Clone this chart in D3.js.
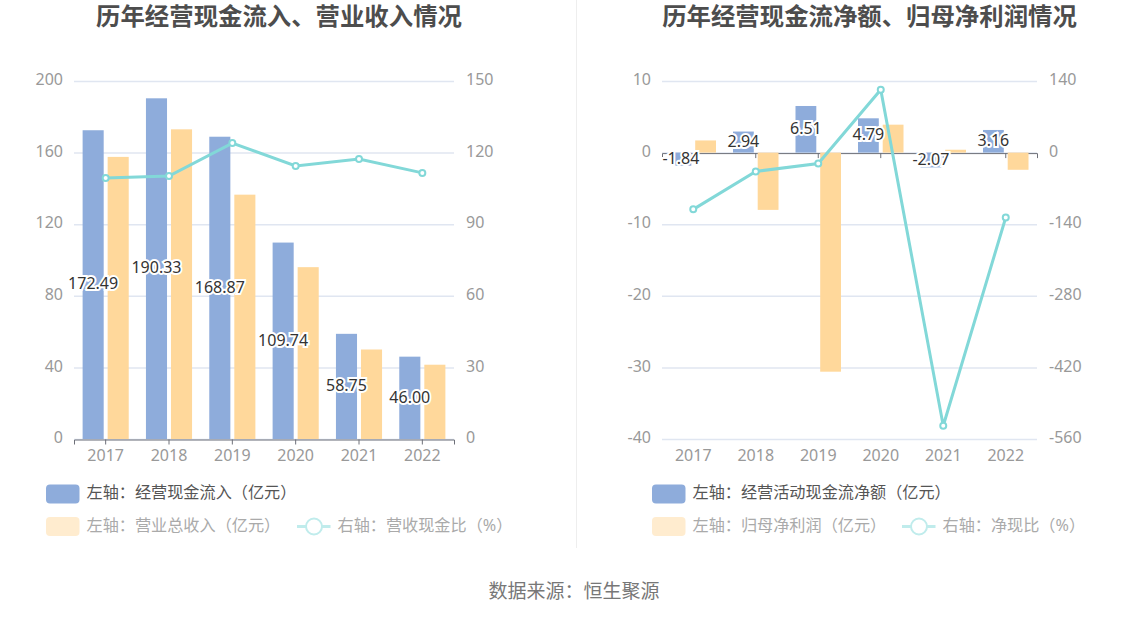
<!DOCTYPE html>
<html>
<head>
<meta charset="utf-8">
<script src="https://cdn.jsdelivr.net/npm/d3@7"></script>
<style>
	html, body { margin: 0; padding: 0; background: #fff; }
	svg { display: block; }
	text { font-family: "Noto Sans", "Noto Sans CJK SC", sans-serif; }
</style>
</head>
<body>
<svg id="chart" width="1148" height="618"></svg>
<script>
// values
var years = ["2017", "2018", "2019", "2020", "2021", "2022"];

var cashInflow = [172.49, 190.33, 168.87, 109.74, 58.75, 46.00];
var revenue = [157.6, 173, 136.5, 96, 50, 41.5];
var cashRevenueRatio = [109.4, 110.2, 124, 114.4, 117.3, 111.5];
var leftTicks1 = [0, 40, 80, 120, 160, 200];
var rightTicks1 = [0, 30, 60, 90, 120, 150];

var netCashFlow = [-1.84, 2.94, 6.51, 4.79, -2.07, 3.16];
var netProfit = [1.7, -8.0, -30.6, 3.9, 0.4, -2.4];
var netCashRatio = [-111, -36.8, -21.3, 123, -534, -127];
var leftTicks2 = [-40, -30, -20, -10, 0, 10];
var rightTicks2 = [-560, -420, -280, -140, 0, 140];

var BLUE = "#8eacdb", ORANGE = "#ffd89b", TEAL = "#82d8d8";
var GRID = "#e0e6f1", AXIS = "#6e7079", TICK_TEXT = "#999";
var FONT = '"Noto Sans", "Noto Sans CJK SC", sans-serif';

var svg = d3.select("#chart");

// draws one of the two panels
function drawPanel(o) {
	var g = svg.append("g");
	var top = 81, bottom = 439;

	var x = d3.scaleBand().domain(years).range([o.x0, o.x1]);
	var sub = d3.scaleBand().domain([0, 1]).range([0, x.bandwidth()])
		.paddingInner(0.158).paddingOuter(0.344);
	var yLeft = d3.scaleLinear().domain(o.leftDomain).range([bottom, top]);
	var yRight = d3.scaleLinear().domain(o.rightDomain).range([bottom, top]);

	g.append("text")
		.attr("x", (o.x0 + o.x1) / 2 + o.titleDx)
		.attr("y", 25)
		.attr("text-anchor", "middle")
		.attr("font-size", 24.4)
		.attr("font-weight", "bold")
		.attr("fill", "#4d4d4d")
		.text(o.title);

	// gridlines
	g.append("g").selectAll("line").data(o.leftTicks).enter()
		.append("line")
		.attr("x1", o.x0).attr("x2", o.x1)
		.attr("y1", function (d) { return yLeft(d) + 0.5; })
		.attr("y2", function (d) { return yLeft(d) + 0.5; })
		.attr("stroke", GRID)
		.attr("stroke-width", 1.5);

	// value axes, text only
	var left = g.append("g")
		.attr("transform", "translate(" + o.x0 + ",-1.5)")
		.call(d3.axisLeft(yLeft).tickValues(o.leftTicks).tickSize(0).tickPadding(11).tickFormat(String));
	var right = g.append("g")
		.attr("transform", "translate(" + o.x1 + ",-1.5)")
		.call(d3.axisRight(yRight).tickValues(o.rightTicks).tickSize(0).tickPadding(12).tickFormat(String));
	[left, right].forEach(function (a) {
		a.select(".domain").remove();
		a.selectAll("text").attr("font-size", 16).attr("fill", TICK_TEXT)
			.style("font-family", FONT);
	});

	// category baseline at zero with ticks
	var base = g.append("g")
		.attr("transform", "translate(0," + (yLeft(0) + 0.5) + ")")
		.call(d3.axisBottom(x).tickSize(5).tickFormat(""));
	base.select(".domain").attr("stroke", AXIS);
	base.selectAll("line").attr("stroke", AXIS);

	var labels = g.append("g")
		.attr("transform", "translate(0," + bottom + ")")
		.call(d3.axisBottom(x).tickSize(0).tickPadding(11));
	labels.select(".domain").remove();
	labels.selectAll("text").attr("font-size", 16).attr("fill", TICK_TEXT)
		.style("font-family", FONT);

	// bars
	function bars(values, idx, color) {
		g.append("g").selectAll("rect").data(values).enter()
			.append("rect")
			.attr("x", function (d, i) { return x(years[i]) + sub(idx); })
			.attr("width", sub.bandwidth())
			.attr("y", function (d) { return Math.min(yLeft(d), yLeft(0)); })
			.attr("height", function (d) { return Math.abs(yLeft(d) - yLeft(0)); })
			.attr("fill", color);
	}
	bars(o.series1, 0, BLUE);
	bars(o.series2, 1, ORANGE);

	// ratio line
	var cx = function (d, i) { return x(years[i]) + x.bandwidth() / 2; };
	var line = d3.line().x(cx).y(function (d) { return yRight(d); });
	g.append("path").datum(o.ratio)
		.attr("d", line)
		.attr("fill", "none")
		.attr("stroke", TEAL)
		.attr("stroke-width", 3);
	g.append("g").selectAll("circle").data(o.ratio).enter()
		.append("circle")
		.attr("cx", cx)
		.attr("cy", function (d) { return yRight(d); })
		.attr("r", 3)
		.attr("fill", "#fff")
		.attr("stroke", TEAL)
		.attr("stroke-width", 2);

	// value labels sit in the middle of the first bar
	g.append("g").selectAll("text").data(o.series1).enter()
		.append("text")
		.attr("x", function (d, i) { return x(years[i]) + sub(0) + sub.bandwidth() / 2; })
		.attr("y", function (d) { return (yLeft(d) + yLeft(0)) / 2 - 1; })
		.attr("dy", "0.36em")
		.attr("text-anchor", "middle")
		.attr("font-size", 16)
		.attr("fill", "#333")
		.attr("stroke", "#fff")
		.attr("stroke-width", 4)
		.attr("paint-order", "stroke")
		.text(function (d) { return d.toFixed(2); });

	// legend
	var leg = g.append("g");
	leg.append("rect").attr("x", o.legendX).attr("y", 484.5).attr("width", 33.5).attr("height", 19)
		.attr("rx", 4).attr("fill", BLUE);
	leg.append("text").attr("x", o.legendX + 40.5).attr("y", 498).attr("font-size", 16.15)
		.attr("fill", "#555").text(o.names[0]);
	leg.append("rect").attr("x", o.legendX).attr("y", 517).attr("width", 33.5).attr("height", 19)
		.attr("rx", 4).attr("fill", "#ffeccf");
	leg.append("text").attr("x", o.legendX + 40.5).attr("y", 531).attr("font-size", 16.15)
		.attr("fill", "#aaa").text(o.names[1]);
	leg.append("line").attr("x1", o.legendX2).attr("x2", o.legendX2 + 33.5)
		.attr("y1", 526.5).attr("y2", 526.5)
		.attr("stroke", "#c0ecec").attr("stroke-width", 3);
	leg.append("circle").attr("cx", o.legendX2 + 17).attr("cy", 526.5).attr("r", 8)
		.attr("fill", "#fff").attr("stroke", "#c0ecec").attr("stroke-width", 2);
	leg.append("text").attr("x", o.legendX2 + 40.5).attr("y", 531).attr("font-size", 16.15)
		.attr("fill", "#aaa").text(o.names[2]);
}

drawPanel({
	title: "历年经营现金流入、营业收入情况",
	titleDx: 15,
	x0: 74, x1: 454,
	leftDomain: [0, 200], rightDomain: [0, 150],
	leftTicks: leftTicks1, rightTicks: rightTicks1,
	series1: cashInflow, series2: revenue, ratio: cashRevenueRatio,
	legendX: 46, legendX2: 297,
	names: ["左轴：经营现金流入（亿元）", "左轴：营业总收入（亿元）", "右轴：营收现金比（%）"]
});

drawPanel({
	title: "历年经营现金流净额、归母净利润情况",
	titleDx: 20,
	x0: 662, x1: 1037,
	leftDomain: [-40, 10], rightDomain: [-560, 140],
	leftTicks: leftTicks2, rightTicks: rightTicks2,
	series1: netCashFlow, series2: netProfit, ratio: netCashRatio,
	legendX: 652, legendX2: 902,
	names: ["左轴：经营活动现金流净额（亿元）", "左轴：归母净利润（亿元）", "右轴：净现比（%）"]
});

// divider between the panels
svg.append("line")
	.attr("x1", 576.5).attr("x2", 576.5)
	.attr("y1", 0).attr("y2", 548)
	.attr("stroke", "#eee");

svg.append("text")
	.attr("x", 574)
	.attr("y", 598)
	.attr("text-anchor", "middle")
	.attr("font-size", 19)
	.attr("fill", "#777")
	.text("数据来源：恒生聚源");
</script>
</body>
</html>
